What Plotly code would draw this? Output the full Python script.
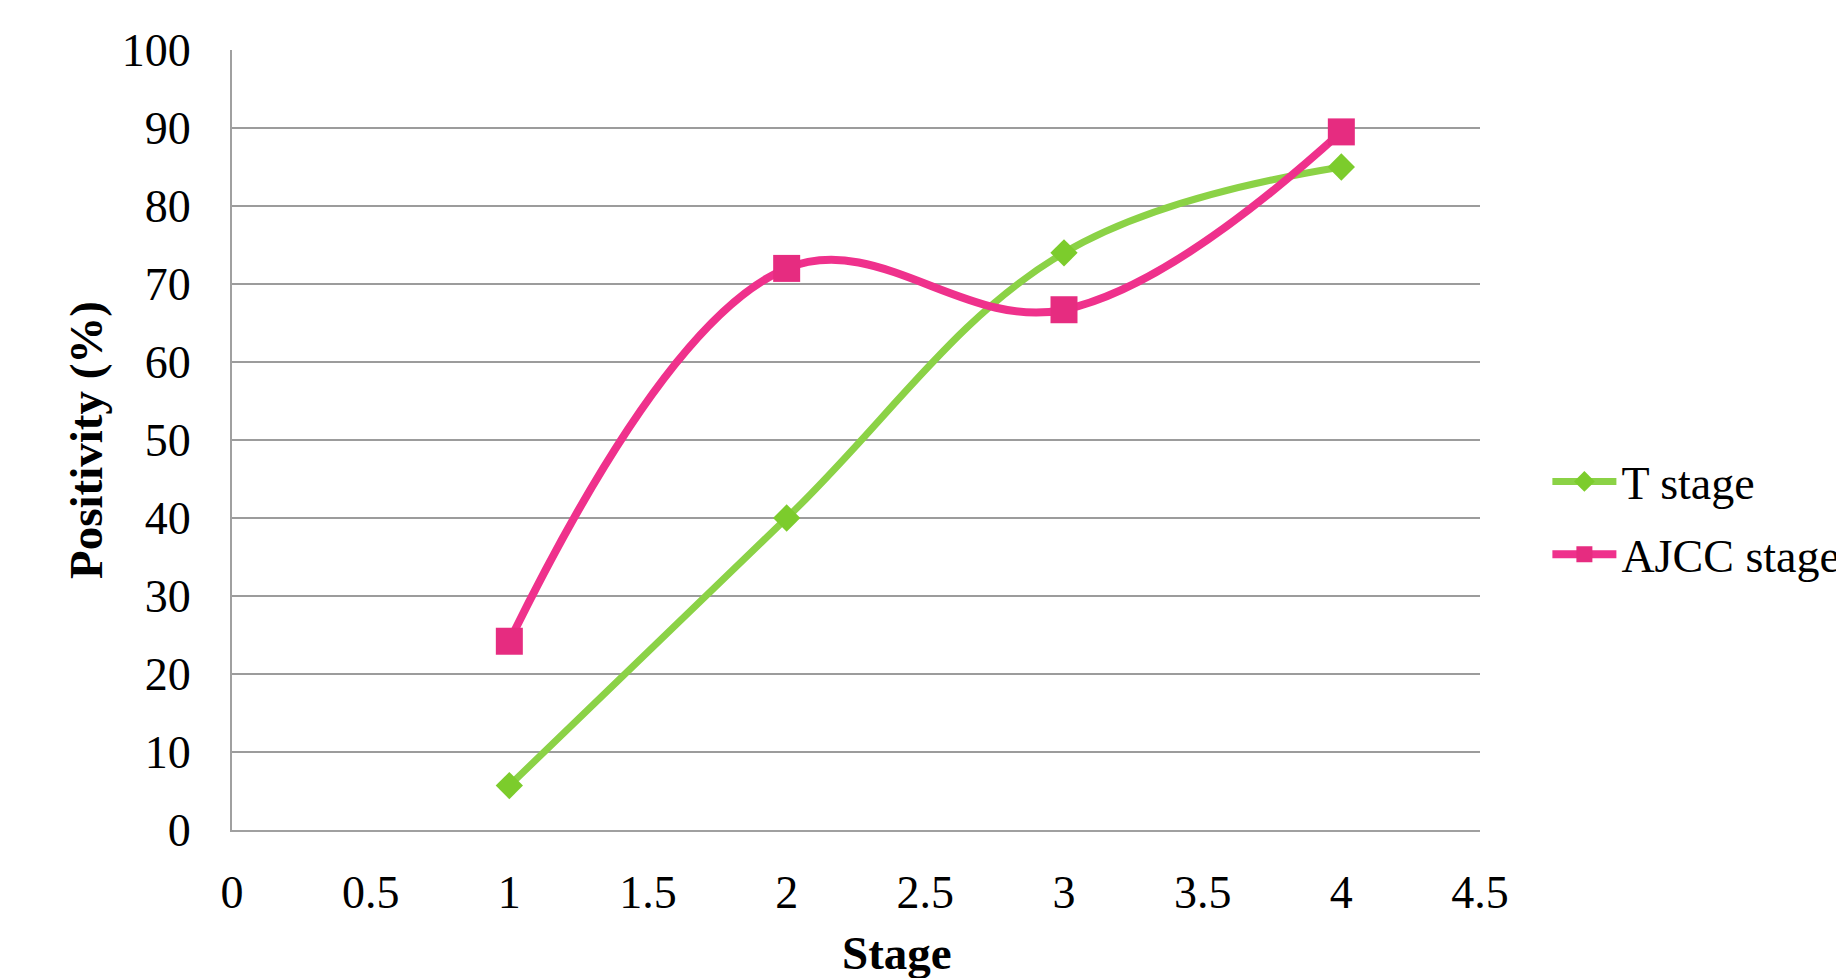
import plotly.graph_objects as go

stages = [1, 2, 3, 4]
t_stage = [5.7, 40.0, 74.0, 85.0]
ajcc_stage = [24.2, 72.0, 66.7, 89.5]

x_ticks = [0, 0.5, 1, 1.5, 2, 2.5, 3, 3.5, 4, 4.5]
x_tick_text = ["0", "0.5", "1", "1.5", "2", "2.5", "3", "3.5", "4", "4.5"]
y_ticks = [0, 10, 20, 30, 40, 50, 60, 70, 80, 90, 100]

FONT = "Liberation Serif, Times New Roman, serif"
GREEN_LINE = "#8BD246"
GREEN_MARK = "#7CCC2C"
PINK_LINE = "#EF318C"
PINK_MARK = "#E62C80"

fig = go.Figure()
fig.add_trace(go.Scatter(
    x=stages, y=t_stage, name="T stage", mode="lines+markers",
    legendgroup="t",
    line=dict(color=GREEN_LINE, width=7, shape="spline", smoothing=1.1),
    marker=dict(symbol="diamond", size=21, color=GREEN_MARK,
                line=dict(width=0)),
))
fig.add_trace(go.Scatter(
    x=stages, y=ajcc_stage, name="AJCC stage", mode="lines+markers",
    legendgroup="a",
    line=dict(color=PINK_LINE, width=8, shape="spline", smoothing=1.1),
    marker=dict(symbol="square", size=27, color=PINK_MARK,
                line=dict(width=0)),
))

fig.update_layout(
    width=1836, height=970,
    margin=dict(l=224, r=364, t=42, b=148, autoexpand=False),
    paper_bgcolor="white", plot_bgcolor="white",
    font=dict(family=FONT, size=46, color="black"),
    showlegend=True,
    legend=dict(x=1.054, xanchor="left", y=0.40, yanchor="middle",
                font=dict(family=FONT, size=46, color="black"),
                itemwidth=64, tracegroupgap=10, bgcolor="rgba(0,0,0,0)"),
    annotations=[dict(text="<b>Stage</b>", xref="paper", yref="paper",
                      x=(897 - 232) / 1248, y=0, yshift=-123,
                      xanchor="center", yanchor="middle", showarrow=False,
                      font=dict(family=FONT, size=47, color="black"))],
)
fig.update_xaxes(
    range=[0, 4.5], tickvals=x_ticks, ticktext=x_tick_text,
    showgrid=False, zeroline=False,
    showline=True, linecolor="#A0A0A0", linewidth=2,
    ticks="", ticklabelstandoff=21,
    tickfont=dict(family=FONT, size=46, color="black"),
)
fig.update_yaxes(
    range=[0, 100], tickvals=y_ticks,
    showgrid=True, gridcolor="#9C9C9C", gridwidth=2,
    zeroline=False,
    showline=True, linecolor="#A0A0A0", linewidth=2,
    ticks="", ticklabelstandoff=30,
    tickfont=dict(family=FONT, size=46, color="black"),
    title=dict(text="<b>Positivity (%)</b>", standoff=4,
               font=dict(family=FONT, size=47, color="black")),
)

fig.write_html("out.html")
